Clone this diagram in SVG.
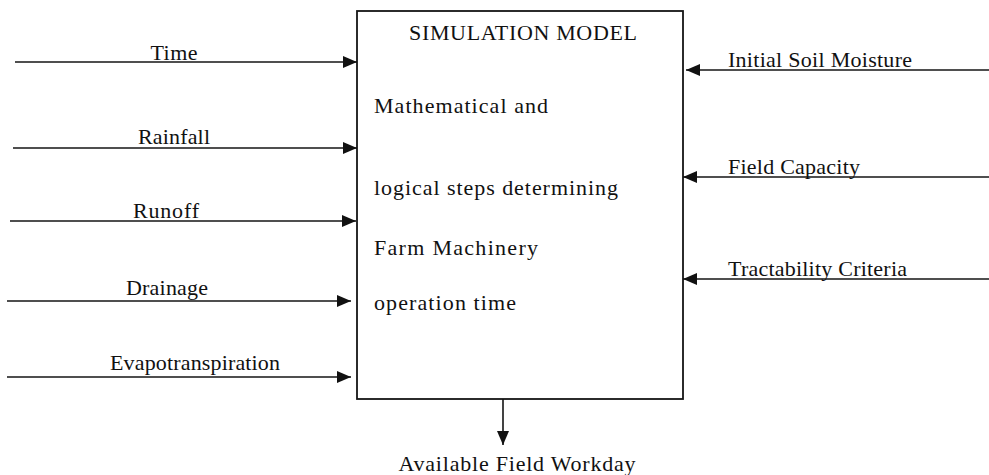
<svg xmlns="http://www.w3.org/2000/svg" width="989" height="475" viewBox="0 0 989 475">
  <style>
    .ln { stroke: #151515; stroke-width: 1.6; fill: none; }
    .box { stroke: #151515; stroke-width: 1.8; fill: #ffffff; }
    .t { font-family: "Liberation Serif", "Times New Roman", serif; font-size: 22px; fill: #111111; }
    .mid { text-anchor: middle; }
  </style>
  <defs>
    <marker id="arrow" viewBox="0 0 14 12" refX="14" refY="6" markerWidth="14" markerHeight="12" markerUnits="userSpaceOnUse" orient="auto">
      <path d="M0,0 L14,6 L0,12 Z" fill="#111111"/>
    </marker>
  </defs>

  <rect width="989" height="475" fill="#ffffff"/>

  <!-- central model box -->
  <g id="simulation-model">
    <rect class="box" x="357" y="11" width="326" height="388"/>
    <text class="t mid" x="523" y="40" textLength="228" lengthAdjust="spacing">SIMULATION MODEL</text>
    <text class="t" x="374" y="113" textLength="174" lengthAdjust="spacing">Mathematical and</text>
    <text class="t" x="374" y="195" textLength="244" lengthAdjust="spacing">logical steps determining</text>
    <text class="t" x="374" y="255" textLength="164" lengthAdjust="spacing">Farm Machinery</text>
    <text class="t" x="374" y="310" textLength="142" lengthAdjust="spacing">operation time</text>
  </g>

  <!-- input / output connectors -->
  <g id="connectors">
    <line class="ln" x1="15" y1="62" x2="357" y2="62" marker-end="url(#arrow)"/>
    <line class="ln" x1="13" y1="148" x2="357" y2="148" marker-end="url(#arrow)"/>
    <line class="ln" x1="10" y1="221" x2="356" y2="221" marker-end="url(#arrow)"/>
    <line class="ln" x1="7" y1="301" x2="351" y2="301" marker-end="url(#arrow)"/>
    <line class="ln" x1="7" y1="377" x2="351" y2="377" marker-end="url(#arrow)"/>
    <line class="ln" x1="989" y1="70" x2="686" y2="70" marker-end="url(#arrow)"/>
    <line class="ln" x1="989" y1="177" x2="683" y2="177" marker-end="url(#arrow)"/>
    <line class="ln" x1="989" y1="279" x2="683" y2="279" marker-end="url(#arrow)"/>
    <line class="ln" x1="503" y1="399" x2="503" y2="445" marker-end="url(#arrow)"/>
  </g>

  <!-- input labels, left side -->
  <g id="time"><text class="t mid" x="174" y="60" textLength="47" lengthAdjust="spacing">Time</text></g>
  <g id="rainfall"><text class="t mid" x="174" y="144" textLength="72" lengthAdjust="spacing">Rainfall</text></g>
  <g id="runoff"><text class="t mid" x="166" y="218" textLength="66" lengthAdjust="spacing">Runoff</text></g>
  <g id="drainage"><text class="t mid" x="167" y="295" textLength="82" lengthAdjust="spacing">Drainage</text></g>
  <g id="evapotranspiration"><text class="t mid" x="195" y="370" textLength="170" lengthAdjust="spacing">Evapotranspiration</text></g>

  <!-- input labels, right side -->
  <g id="initial-soil-moisture"><text class="t" x="728" y="67" textLength="184" lengthAdjust="spacing">Initial Soil Moisture</text></g>
  <g id="field-capacity"><text class="t" x="728" y="174" textLength="132" lengthAdjust="spacing">Field Capacity</text></g>
  <g id="tractability-criteria"><text class="t" x="728" y="276" textLength="179" lengthAdjust="spacing">Tractability Criteria</text></g>

  <!-- output label -->
  <g id="available-field-workday"><text class="t mid" x="517" y="471" textLength="237" lengthAdjust="spacing">Available Field Workday</text></g>
</svg>
